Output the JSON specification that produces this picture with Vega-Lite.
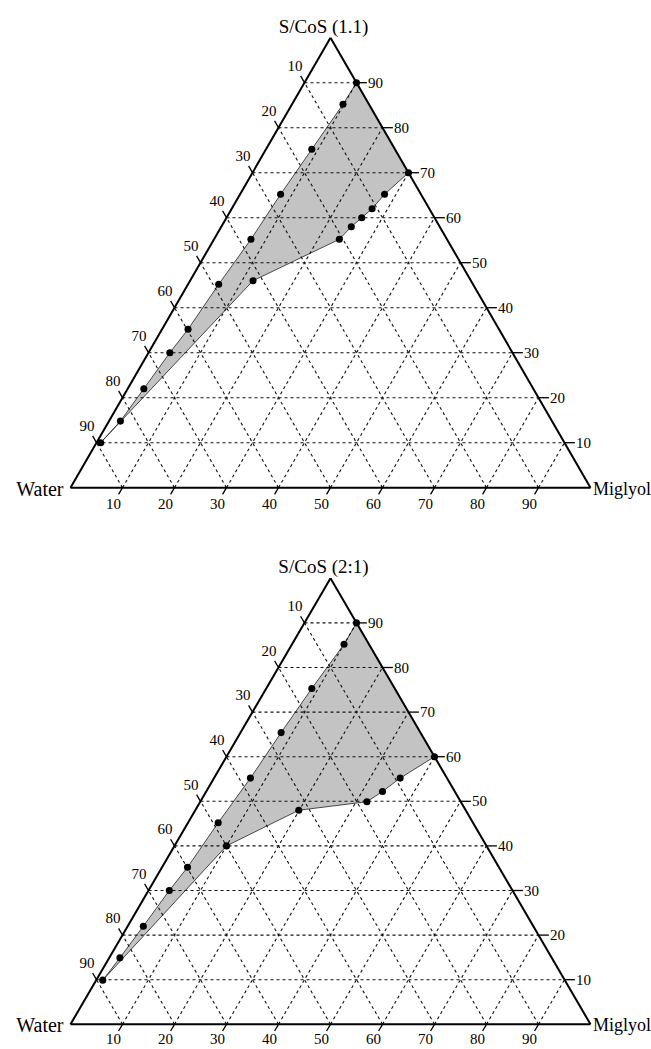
{
  "$schema": "https://vega.github.io/schema/vega-lite/v6.json",
  "width": 651,
  "height": 1049,
  "autosize": {"type": "none"},
  "padding": 0,
  "background": "white",
  "config": {"view": {"stroke": null}, "text": {"font": "Liberation Serif", "color": "black"}},
  "datasets": {
    "one": [{"k": 1}],
    "grid": [
      {"x": 5, "y": 10, "x2": 95, "y2": 10}, {"x": 10, "y": 0, "x2": 55, "y2": 90}, {"x": 90, "y": 0, "x2": 45, "y2": 90},
      {"x": 10, "y": 20, "x2": 90, "y2": 20}, {"x": 20, "y": 0, "x2": 60, "y2": 80}, {"x": 80, "y": 0, "x2": 40, "y2": 80},
      {"x": 15, "y": 30, "x2": 85, "y2": 30}, {"x": 30, "y": 0, "x2": 65, "y2": 70}, {"x": 70, "y": 0, "x2": 35, "y2": 70},
      {"x": 20, "y": 40, "x2": 80, "y2": 40}, {"x": 40, "y": 0, "x2": 70, "y2": 60}, {"x": 60, "y": 0, "x2": 30, "y2": 60},
      {"x": 25, "y": 50, "x2": 75, "y2": 50}, {"x": 50, "y": 0, "x2": 75, "y2": 50}, {"x": 50, "y": 0, "x2": 25, "y2": 50},
      {"x": 30, "y": 60, "x2": 70, "y2": 60}, {"x": 60, "y": 0, "x2": 80, "y2": 40}, {"x": 40, "y": 0, "x2": 20, "y2": 40},
      {"x": 35, "y": 70, "x2": 65, "y2": 70}, {"x": 70, "y": 0, "x2": 85, "y2": 30}, {"x": 30, "y": 0, "x2": 15, "y2": 30},
      {"x": 40, "y": 80, "x2": 60, "y2": 80}, {"x": 80, "y": 0, "x2": 90, "y2": 20}, {"x": 20, "y": 0, "x2": 10, "y2": 20},
      {"x": 45, "y": 90, "x2": 55, "y2": 90}, {"x": 90, "y": 0, "x2": 95, "y2": 10}, {"x": 10, "y": 0, "x2": 5, "y2": 10}
    ],
    "edges": [
      {"x": 0, "y": 0, "x2": 100, "y2": 0},
      {"x": 0, "y": 0, "x2": 50, "y2": 100},
      {"x": 100, "y": 0, "x2": 50, "y2": 100}
    ],
    "ticks": [
      {"side": "L", "label": "10", "x": 45, "y": 90, "xe": 44.25, "ye": 91.5},
      {"side": "L", "label": "20", "x": 40, "y": 80, "xe": 39.25, "ye": 81.5},
      {"side": "L", "label": "30", "x": 35, "y": 70, "xe": 34.25, "ye": 71.5},
      {"side": "L", "label": "40", "x": 30, "y": 60, "xe": 29.25, "ye": 61.5},
      {"side": "L", "label": "50", "x": 25, "y": 50, "xe": 24.25, "ye": 51.5},
      {"side": "L", "label": "60", "x": 20, "y": 40, "xe": 19.25, "ye": 41.5},
      {"side": "L", "label": "70", "x": 15, "y": 30, "xe": 14.25, "ye": 31.5},
      {"side": "L", "label": "80", "x": 10, "y": 20, "xe": 9.25, "ye": 21.5},
      {"side": "L", "label": "90", "x": 5, "y": 10, "xe": 4.25, "ye": 11.5},
      {"side": "R", "label": "10", "x": 95, "y": 10, "xe": 97, "ye": 10},
      {"side": "R", "label": "20", "x": 90, "y": 20, "xe": 92, "ye": 20},
      {"side": "R", "label": "30", "x": 85, "y": 30, "xe": 87, "ye": 30},
      {"side": "R", "label": "40", "x": 80, "y": 40, "xe": 82, "ye": 40},
      {"side": "R", "label": "50", "x": 75, "y": 50, "xe": 77, "ye": 50},
      {"side": "R", "label": "60", "x": 70, "y": 60, "xe": 72, "ye": 60},
      {"side": "R", "label": "70", "x": 65, "y": 70, "xe": 67, "ye": 70},
      {"side": "R", "label": "80", "x": 60, "y": 80, "xe": 62, "ye": 80},
      {"side": "R", "label": "90", "x": 55, "y": 90, "xe": 57, "ye": 90},
      {"side": "B", "label": "10", "x": 10, "y": 0, "xe": 9.25, "ye": -1.5},
      {"side": "B", "label": "20", "x": 20, "y": 0, "xe": 19.25, "ye": -1.5},
      {"side": "B", "label": "30", "x": 30, "y": 0, "xe": 29.25, "ye": -1.5},
      {"side": "B", "label": "40", "x": 40, "y": 0, "xe": 39.25, "ye": -1.5},
      {"side": "B", "label": "50", "x": 50, "y": 0, "xe": 49.25, "ye": -1.5},
      {"side": "B", "label": "60", "x": 60, "y": 0, "xe": 59.25, "ye": -1.5},
      {"side": "B", "label": "70", "x": 70, "y": 0, "xe": 69.25, "ye": -1.5},
      {"side": "B", "label": "80", "x": 80, "y": 0, "xe": 79.25, "ye": -1.5},
      {"side": "B", "label": "90", "x": 90, "y": 0, "xe": 89.25, "ye": -1.5}
    ],
    "pts": [
      {"panel": "1:1", "o": 1, "x": 55, "y": 90},
      {"panel": "1:1", "o": 2, "x": 52.4, "y": 85.2},
      {"panel": "1:1", "o": 3, "x": 46.4, "y": 75.2},
      {"panel": "1:1", "o": 4, "x": 40.4, "y": 65.2},
      {"panel": "1:1", "o": 5, "x": 34.7, "y": 55.2},
      {"panel": "1:1", "o": 6, "x": 28.5, "y": 45.2},
      {"panel": "1:1", "o": 7, "x": 22.6, "y": 35.2},
      {"panel": "1:1", "o": 8, "x": 19.1, "y": 30.0},
      {"panel": "1:1", "o": 9, "x": 14.1, "y": 22.0},
      {"panel": "1:1", "o": 10, "x": 9.6, "y": 14.8},
      {"panel": "1:1", "o": 11, "x": 5.8, "y": 10.0},
      {"panel": "1:1", "o": 12, "x": 35.1, "y": 46.0},
      {"panel": "1:1", "o": 13, "x": 51.7, "y": 55.2},
      {"panel": "1:1", "o": 14, "x": 54.0, "y": 58.0},
      {"panel": "1:1", "o": 15, "x": 56.0, "y": 60.0},
      {"panel": "1:1", "o": 16, "x": 58.0, "y": 62.0},
      {"panel": "1:1", "o": 17, "x": 60.4, "y": 65.2},
      {"panel": "1:1", "o": 18, "x": 65.0, "y": 70.0},
      {"panel": "2:1", "o": 1, "x": 55, "y": 90},
      {"panel": "2:1", "o": 2, "x": 52.6, "y": 85.2},
      {"panel": "2:1", "o": 3, "x": 46.4, "y": 75.3},
      {"panel": "2:1", "o": 4, "x": 40.5, "y": 65.4},
      {"panel": "2:1", "o": 5, "x": 34.6, "y": 55.2},
      {"panel": "2:1", "o": 6, "x": 28.4, "y": 45.2},
      {"panel": "2:1", "o": 7, "x": 22.5, "y": 35.2},
      {"panel": "2:1", "o": 8, "x": 19.0, "y": 30.0},
      {"panel": "2:1", "o": 9, "x": 14.0, "y": 22.0},
      {"panel": "2:1", "o": 10, "x": 9.5, "y": 14.9},
      {"panel": "2:1", "o": 11, "x": 6.2, "y": 9.9},
      {"panel": "2:1", "o": 12, "x": 30.0, "y": 40.0},
      {"panel": "2:1", "o": 13, "x": 43.9, "y": 48.0},
      {"panel": "2:1", "o": 14, "x": 57.0, "y": 49.9},
      {"panel": "2:1", "o": 15, "x": 60.0, "y": 52.2},
      {"panel": "2:1", "o": 16, "x": 63.4, "y": 55.2},
      {"panel": "2:1", "o": 17, "x": 70.0, "y": 60.0}
    ]
  },
  "resolve": {"scale": {"y": "independent"}},
  "layer": [
    {
      "layer": [
        {
          "data": {"name": "pts"},
          "transform": [{"filter": "datum.panel == '1:1'"}],
          "mark": {"type": "line", "interpolate": "linear-closed", "fill": "#c3c3c3", "stroke": "#222222", "strokeWidth": 0.8},
          "encoding": {
            "x": {"field": "x", "type": "quantitative", "axis": null, "scale": {"domain": [0, 100], "range": [70.5, 590.5], "nice": false, "zero": false}},
            "y": {"field": "y", "type": "quantitative", "axis": null, "scale": {"domain": [0, 100], "range": [487.7, 37.7], "nice": false, "zero": false}},
            "order": {"field": "o", "type": "quantitative"}
          }
        },
        {
          "data": {"name": "grid"},
          "mark": {"type": "rule", "stroke": "#111111", "strokeWidth": 1.1, "strokeDash": [3, 3]},
          "encoding": {
            "x": {"field": "x", "type": "quantitative", "axis": null, "scale": {"domain": [0, 100], "range": [70.5, 590.5], "nice": false, "zero": false}},
            "y": {"field": "y", "type": "quantitative", "axis": null, "scale": {"domain": [0, 100], "range": [487.7, 37.7], "nice": false, "zero": false}},
            "x2": {"field": "x2"},
            "y2": {"field": "y2"}
          }
        },
        {
          "data": {"name": "edges"},
          "mark": {"type": "rule", "stroke": "black", "strokeWidth": 2},
          "encoding": {
            "x": {"field": "x", "type": "quantitative", "axis": null, "scale": {"domain": [0, 100], "range": [70.5, 590.5], "nice": false, "zero": false}},
            "y": {"field": "y", "type": "quantitative", "axis": null, "scale": {"domain": [0, 100], "range": [487.7, 37.7], "nice": false, "zero": false}},
            "x2": {"field": "x2"},
            "y2": {"field": "y2"}
          }
        },
        {
          "data": {"name": "ticks"},
          "mark": {"type": "rule", "stroke": "black", "strokeWidth": 1.3},
          "encoding": {
            "x": {"field": "x", "type": "quantitative", "axis": null, "scale": {"domain": [0, 100], "range": [70.5, 590.5], "nice": false, "zero": false}},
            "y": {"field": "y", "type": "quantitative", "axis": null, "scale": {"domain": [0, 100], "range": [487.7, 37.7], "nice": false, "zero": false}},
            "x2": {"field": "xe"},
            "y2": {"field": "ye"}
          }
        },
        {
          "data": {"name": "ticks"},
          "transform": [{"filter": "datum.side == 'L'"}],
          "mark": {"type": "text", "align": "right", "baseline": "alphabetic", "dx": 2, "dy": -5, "fontSize": 15},
          "encoding": {
            "x": {"field": "xe", "type": "quantitative", "axis": null, "scale": {"domain": [0, 100], "range": [70.5, 590.5], "nice": false, "zero": false}},
            "y": {"field": "ye", "type": "quantitative", "axis": null, "scale": {"domain": [0, 100], "range": [487.7, 37.7], "nice": false, "zero": false}},
            "text": {"field": "label", "type": "nominal"}
          }
        },
        {
          "data": {"name": "ticks"},
          "transform": [{"filter": "datum.side == 'R'"}],
          "mark": {"type": "text", "align": "left", "baseline": "middle", "dx": 1, "fontSize": 15},
          "encoding": {
            "x": {"field": "xe", "type": "quantitative", "axis": null, "scale": {"domain": [0, 100], "range": [70.5, 590.5], "nice": false, "zero": false}},
            "y": {"field": "ye", "type": "quantitative", "axis": null, "scale": {"domain": [0, 100], "range": [487.7, 37.7], "nice": false, "zero": false}},
            "text": {"field": "label", "type": "nominal"}
          }
        },
        {
          "data": {"name": "ticks"},
          "transform": [{"filter": "datum.side == 'B'"}],
          "mark": {"type": "text", "align": "center", "baseline": "alphabetic", "dx": -5, "dy": 15, "fontSize": 15},
          "encoding": {
            "x": {"field": "xe", "type": "quantitative", "axis": null, "scale": {"domain": [0, 100], "range": [70.5, 590.5], "nice": false, "zero": false}},
            "y": {"field": "ye", "type": "quantitative", "axis": null, "scale": {"domain": [0, 100], "range": [487.7, 37.7], "nice": false, "zero": false}},
            "text": {"field": "label", "type": "nominal"}
          }
        },
        {
          "data": {"name": "pts"},
          "transform": [{"filter": "datum.panel == '1:1'"}],
          "mark": {"type": "circle", "size": 50, "color": "black", "opacity": 1},
          "encoding": {
            "x": {"field": "x", "type": "quantitative", "axis": null, "scale": {"domain": [0, 100], "range": [70.5, 590.5], "nice": false, "zero": false}},
            "y": {"field": "y", "type": "quantitative", "axis": null, "scale": {"domain": [0, 100], "range": [487.7, 37.7], "nice": false, "zero": false}}
          }
        },
        {
          "data": {"name": "one"},
          "mark": {"type": "text", "align": "center", "baseline": "alphabetic", "dx": -7, "dy": -5, "fontSize": 19},
          "encoding": {
            "x": {"datum": 50, "type": "quantitative", "axis": null, "scale": {"domain": [0, 100], "range": [70.5, 590.5], "nice": false, "zero": false}},
            "y": {"datum": 100, "type": "quantitative", "axis": null, "scale": {"domain": [0, 100], "range": [487.7, 37.7], "nice": false, "zero": false}},
            "text": {"value": "S/CoS (1.1)"}
          }
        },
        {
          "data": {"name": "one"},
          "mark": {"type": "text", "align": "right", "baseline": "alphabetic", "dx": -7, "dy": 8, "fontSize": 20},
          "encoding": {
            "x": {"datum": 0, "type": "quantitative", "axis": null, "scale": {"domain": [0, 100], "range": [70.5, 590.5], "nice": false, "zero": false}},
            "y": {"datum": 0, "type": "quantitative", "axis": null, "scale": {"domain": [0, 100], "range": [487.7, 37.7], "nice": false, "zero": false}},
            "text": {"value": "Water"}
          }
        },
        {
          "data": {"name": "one"},
          "mark": {"type": "text", "align": "left", "baseline": "alphabetic", "dx": 2.5, "dy": 7, "fontSize": 18},
          "encoding": {
            "x": {"datum": 100, "type": "quantitative", "axis": null, "scale": {"domain": [0, 100], "range": [70.5, 590.5], "nice": false, "zero": false}},
            "y": {"datum": 0, "type": "quantitative", "axis": null, "scale": {"domain": [0, 100], "range": [487.7, 37.7], "nice": false, "zero": false}},
            "text": {"value": "Miglyol"}
          }
        }
      ]
    },
    {
      "layer": [
        {
          "data": {"name": "pts"},
          "transform": [{"filter": "datum.panel == '2:1'"}],
          "mark": {"type": "line", "interpolate": "linear-closed", "fill": "#c3c3c3", "stroke": "#222222", "strokeWidth": 0.8},
          "encoding": {
            "x": {"field": "x", "type": "quantitative", "axis": null, "scale": {"domain": [0, 100], "range": [70.5, 590.5], "nice": false, "zero": false}},
            "y": {"field": "y", "type": "quantitative", "axis": null, "scale": {"domain": [0, 100], "range": [1024.3, 578.3], "nice": false, "zero": false}},
            "order": {"field": "o", "type": "quantitative"}
          }
        },
        {
          "data": {"name": "grid"},
          "mark": {"type": "rule", "stroke": "#111111", "strokeWidth": 1.1, "strokeDash": [3, 3]},
          "encoding": {
            "x": {"field": "x", "type": "quantitative", "axis": null, "scale": {"domain": [0, 100], "range": [70.5, 590.5], "nice": false, "zero": false}},
            "y": {"field": "y", "type": "quantitative", "axis": null, "scale": {"domain": [0, 100], "range": [1024.3, 578.3], "nice": false, "zero": false}},
            "x2": {"field": "x2"},
            "y2": {"field": "y2"}
          }
        },
        {
          "data": {"name": "edges"},
          "mark": {"type": "rule", "stroke": "black", "strokeWidth": 2},
          "encoding": {
            "x": {"field": "x", "type": "quantitative", "axis": null, "scale": {"domain": [0, 100], "range": [70.5, 590.5], "nice": false, "zero": false}},
            "y": {"field": "y", "type": "quantitative", "axis": null, "scale": {"domain": [0, 100], "range": [1024.3, 578.3], "nice": false, "zero": false}},
            "x2": {"field": "x2"},
            "y2": {"field": "y2"}
          }
        },
        {
          "data": {"name": "ticks"},
          "mark": {"type": "rule", "stroke": "black", "strokeWidth": 1.3},
          "encoding": {
            "x": {"field": "x", "type": "quantitative", "axis": null, "scale": {"domain": [0, 100], "range": [70.5, 590.5], "nice": false, "zero": false}},
            "y": {"field": "y", "type": "quantitative", "axis": null, "scale": {"domain": [0, 100], "range": [1024.3, 578.3], "nice": false, "zero": false}},
            "x2": {"field": "xe"},
            "y2": {"field": "ye"}
          }
        },
        {
          "data": {"name": "ticks"},
          "transform": [{"filter": "datum.side == 'L'"}],
          "mark": {"type": "text", "align": "right", "baseline": "alphabetic", "dx": 2, "dy": -5, "fontSize": 15},
          "encoding": {
            "x": {"field": "xe", "type": "quantitative", "axis": null, "scale": {"domain": [0, 100], "range": [70.5, 590.5], "nice": false, "zero": false}},
            "y": {"field": "ye", "type": "quantitative", "axis": null, "scale": {"domain": [0, 100], "range": [1024.3, 578.3], "nice": false, "zero": false}},
            "text": {"field": "label", "type": "nominal"}
          }
        },
        {
          "data": {"name": "ticks"},
          "transform": [{"filter": "datum.side == 'R'"}],
          "mark": {"type": "text", "align": "left", "baseline": "middle", "dx": 1, "fontSize": 15},
          "encoding": {
            "x": {"field": "xe", "type": "quantitative", "axis": null, "scale": {"domain": [0, 100], "range": [70.5, 590.5], "nice": false, "zero": false}},
            "y": {"field": "ye", "type": "quantitative", "axis": null, "scale": {"domain": [0, 100], "range": [1024.3, 578.3], "nice": false, "zero": false}},
            "text": {"field": "label", "type": "nominal"}
          }
        },
        {
          "data": {"name": "ticks"},
          "transform": [{"filter": "datum.side == 'B'"}],
          "mark": {"type": "text", "align": "center", "baseline": "alphabetic", "dx": -5, "dy": 13, "fontSize": 15},
          "encoding": {
            "x": {"field": "xe", "type": "quantitative", "axis": null, "scale": {"domain": [0, 100], "range": [70.5, 590.5], "nice": false, "zero": false}},
            "y": {"field": "ye", "type": "quantitative", "axis": null, "scale": {"domain": [0, 100], "range": [1024.3, 578.3], "nice": false, "zero": false}},
            "text": {"field": "label", "type": "nominal"}
          }
        },
        {
          "data": {"name": "pts"},
          "transform": [{"filter": "datum.panel == '2:1'"}],
          "mark": {"type": "circle", "size": 50, "color": "black", "opacity": 1},
          "encoding": {
            "x": {"field": "x", "type": "quantitative", "axis": null, "scale": {"domain": [0, 100], "range": [70.5, 590.5], "nice": false, "zero": false}},
            "y": {"field": "y", "type": "quantitative", "axis": null, "scale": {"domain": [0, 100], "range": [1024.3, 578.3], "nice": false, "zero": false}}
          }
        },
        {
          "data": {"name": "one"},
          "mark": {"type": "text", "align": "center", "baseline": "alphabetic", "dx": -7, "dy": -5, "fontSize": 19},
          "encoding": {
            "x": {"datum": 50, "type": "quantitative", "axis": null, "scale": {"domain": [0, 100], "range": [70.5, 590.5], "nice": false, "zero": false}},
            "y": {"datum": 100, "type": "quantitative", "axis": null, "scale": {"domain": [0, 100], "range": [1024.3, 578.3], "nice": false, "zero": false}},
            "text": {"value": "S/CoS (2:1)"}
          }
        },
        {
          "data": {"name": "one"},
          "mark": {"type": "text", "align": "right", "baseline": "alphabetic", "dx": -7, "dy": 8, "fontSize": 20},
          "encoding": {
            "x": {"datum": 0, "type": "quantitative", "axis": null, "scale": {"domain": [0, 100], "range": [70.5, 590.5], "nice": false, "zero": false}},
            "y": {"datum": 0, "type": "quantitative", "axis": null, "scale": {"domain": [0, 100], "range": [1024.3, 578.3], "nice": false, "zero": false}},
            "text": {"value": "Water"}
          }
        },
        {
          "data": {"name": "one"},
          "mark": {"type": "text", "align": "left", "baseline": "alphabetic", "dx": 2.5, "dy": 7, "fontSize": 18},
          "encoding": {
            "x": {"datum": 100, "type": "quantitative", "axis": null, "scale": {"domain": [0, 100], "range": [70.5, 590.5], "nice": false, "zero": false}},
            "y": {"datum": 0, "type": "quantitative", "axis": null, "scale": {"domain": [0, 100], "range": [1024.3, 578.3], "nice": false, "zero": false}},
            "text": {"value": "Miglyol"}
          }
        }
      ]
    }
  ]
}
